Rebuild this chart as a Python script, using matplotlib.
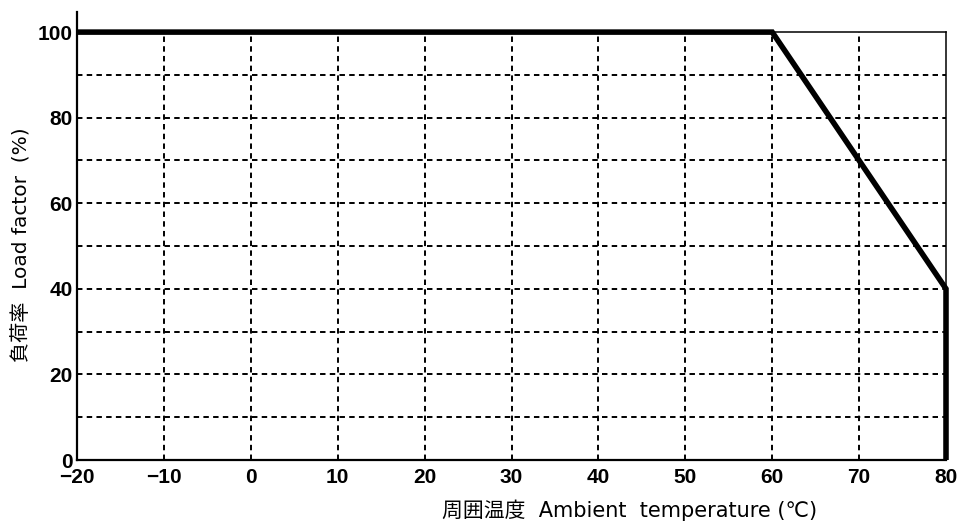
import matplotlib
matplotlib.use("Agg")
import matplotlib.pyplot as plt

# Data
temps = [-20, 60, 80, 80]
load = [100, 100, 40, 0]
x_ticks = [-20, -10, 0, 10, 20, 30, 40, 50, 60, 70, 80]
y_ticks = [0, 20, 40, 60, 80, 100]
x_grid = [-10, 0, 10, 20, 30, 40, 50, 60, 70]
y_grid = [10, 20, 30, 40, 50, 60, 70, 80, 90]
xlabel = "周囲温度  Ambient  temperature (℃)"
ylabel = "負荷率  Load factor  (%)"

plt.rcParams['font.family'] = ['Noto Sans CJK JP', 'DejaVu Sans']

fig = plt.figure(figsize=(9.58, 5.26), dpi=100)
ax = fig.add_axes([77/958, 66/526, (946-77)/958, (460-12)/526])

xmin, xmax = -20, 80
ymin, ymax = 0, 100
ax.set_xlim(xmin, xmax)
ax.set_ylim(ymin, 104.7)

dash = (0, (2.8, 2.2))
ax.vlines(x_grid, ymin, ymax, colors='black', linewidth=1.4, linestyles=[dash])
ax.hlines(y_grid, xmin, xmax, colors='black', linewidth=1.4, linestyles=[dash])

# thin frame lines at top (y=100) and right (x=80)
ax.plot([xmin, xmax], [ymax, ymax], color='black', linewidth=1.1, clip_on=False)
ax.plot([xmax, xmax], [ymin, ymax], color='black', linewidth=1.1, clip_on=False)

ax.plot(temps, load, color='black', linewidth=4.0, solid_joinstyle='miter',
        solid_capstyle='butt', clip_on=False, zorder=5)

for s in ['top', 'right']:
    ax.spines[s].set_visible(False)
for s in ['left', 'bottom']:
    ax.spines[s].set_linewidth(1.6)

ax.set_xticks(x_ticks)
ax.set_yticks(y_ticks)
ax.tick_params(length=0)
ax.tick_params(axis='y', pad=3)
ax.tick_params(axis='x', pad=6)
for lab in ax.get_xticklabels() + ax.get_yticklabels():
    lab.set_fontfamily(['Liberation Sans', 'DejaVu Sans'])
    lab.set_fontweight('bold')
    lab.set_fontsize(15)

lab_family = ['DejaVu Sans', 'Noto Sans CJK JP']
ax.set_xlabel(xlabel, fontsize=15, family=lab_family)
ax.xaxis.set_label_coords((630-77)/(946-77), -0.088)
ax.set_ylabel(ylabel, fontsize=14.5, family=lab_family)
ax.yaxis.set_label_coords(-0.052, 0.48)

fig.savefig("out.png", dpi=100)
